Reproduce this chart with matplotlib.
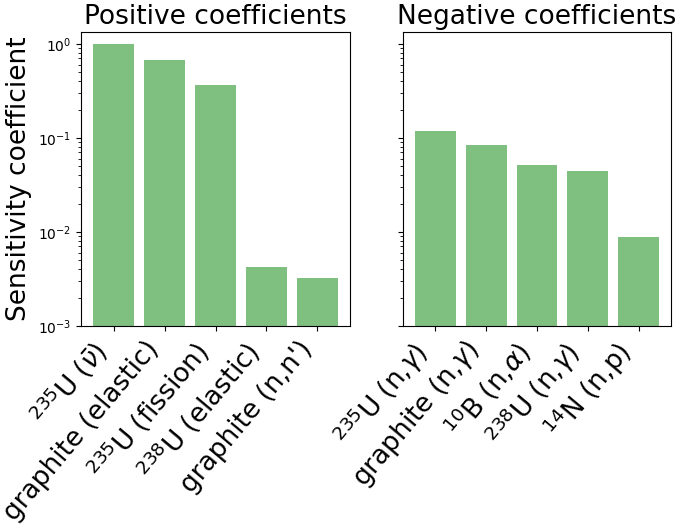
import matplotlib
matplotlib.use("Agg")
import matplotlib.pyplot as plt

pos_labels = [r"$^{235}$U ($\bar{\nu}$)", "graphite (elastic)", r"$^{235}$U (fission)",
              r"$^{238}$U (elastic)", "graphite (n,n')"]
pos_values = [1.0, 0.67, 0.36, 0.0042, 0.0032]

neg_labels = [r"$^{235}$U (n,$\gamma$)", r"graphite (n,$\gamma$)", r"$^{10}$B (n,$\alpha$)",
              r"$^{238}$U (n,$\gamma$)", r"$^{14}$N (n,p)"]
neg_values = [0.118, 0.083, 0.051, 0.044, 0.0089]

fig = plt.figure(figsize=(6.76, 5.27), dpi=100)
ax1 = fig.add_axes([81 / 676, 1 - 326 / 527, 269 / 676, 294 / 527])
ax2 = fig.add_axes([403 / 676, 1 - 326 / 527, 268 / 676, 294 / 527], sharey=ax1)

for ax, labels, values, title in [(ax1, pos_labels, pos_values, "Positive coefficients"),
                                  (ax2, neg_labels, neg_values, "Negative coefficients")]:
    x = list(range(len(values)))
    ax.bar(x, values, color="green", alpha=0.5, log=True)
    ax.set_xticks(x)
    ax.set_xticklabels(labels, rotation=50, ha="right", fontsize=19)
    ax.set_title(title, fontsize=19)

ax1.set_yscale("log")
ax1.set_ylim(bottom=1e-3)
ax1.set_ylabel("Sensitivity coefficient", fontsize=19)
plt.setp(ax2.get_yticklabels(), visible=False)

fig.savefig("out.png", dpi=100)
